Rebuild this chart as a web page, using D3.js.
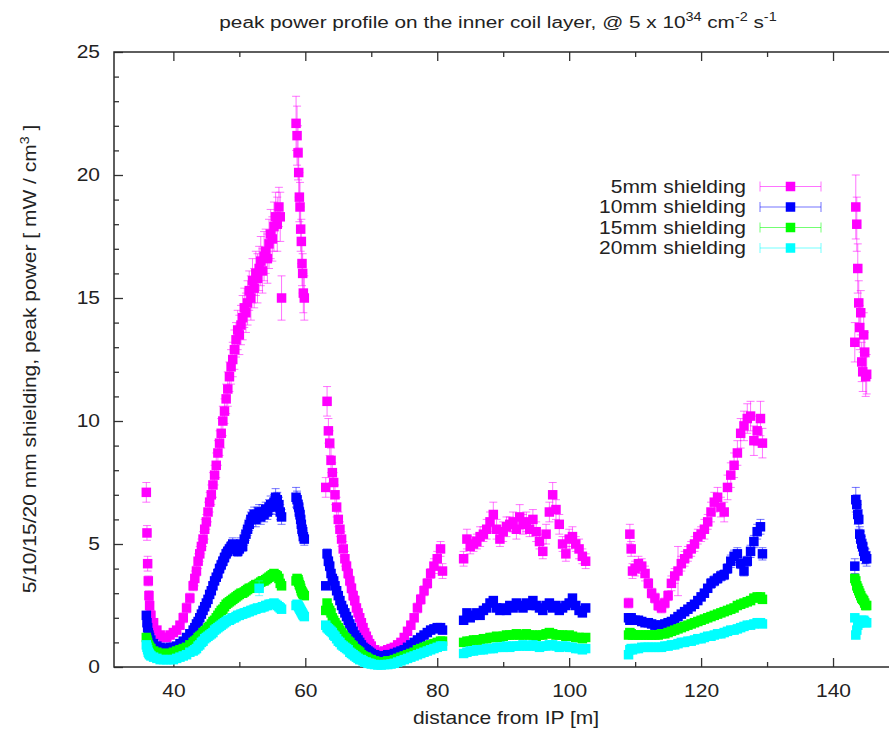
<!DOCTYPE html>
<html>
<head>
<meta charset="utf-8">
<title>peak power profile</title>
<style>
  body { margin: 0; background: #fff; }
  svg { display: block; }
  text { font-family: "Liberation Sans", Arial, sans-serif; fill: #222; }
</style>
</head>
<body>
<svg id="chart" width="889" height="732"></svg>

<script src="https://d3js.org/d3.v7.min.js"></script>
<script>

// distance from IP [m], shared by all four shielding runs
const distance = [
  // 36 - 56 m
  35.9, 36.0, 36.1, 36.2, 36.3, 36.4, 36.6, 37.0, 37.5, 38.0, 38.5, 39.0, 39.5, 40.0, 40.5, 41.0, 41.5, 42.0, 42.5, 43.0,
  43.25, 43.5, 43.75, 44.0, 44.25, 44.5, 44.75, 45.0, 45.25, 45.5, 45.75, 46.0, 46.25, 46.5, 46.75, 47.0, 47.25, 47.5, 47.75, 48.0,
  48.25, 48.5, 48.75, 49.0, 49.25, 49.5, 49.75, 50.0, 50.25, 50.5, 50.75, 51.0, 51.25, 51.5, 51.75, 52.0, 52.25, 52.5, 52.75, 53.0,
  53.25, 53.5, 53.75, 54.0, 54.25, 54.5, 54.75, 55.0, 55.25, 55.5, 55.75, 56.0, 56.2, 56.4,
  // 58.6 - 60 m
  58.6, 58.75, 58.9, 59.0, 59.1, 59.2, 59.3, 59.4, 59.5, 59.6, 59.7, 59.85,
  // 63 - 81 m
  63.1, 63.3, 63.5, 63.7, 63.9, 64.1, 64.3, 64.5, 64.75, 65.0, 65.25, 65.5, 65.75, 66.0, 66.25, 66.5, 66.75, 67.0, 67.25, 67.5,
  67.75, 68.0, 68.25, 68.5, 68.75, 69.0, 69.25, 69.5, 69.75, 70.0, 70.5, 71.0, 71.5, 72.0, 72.5, 73.0, 73.5, 74.0, 74.5, 75.0,
  75.5, 76.0, 76.5, 77.0, 77.5, 78.0, 78.5, 79.0, 79.5, 80.0, 80.5, 80.8,
  // 84 - 102.5 m
  84.0, 84.5, 85.0, 85.5, 86.0, 86.5, 87.0, 87.5, 88.0, 88.5, 89.0, 89.5, 90.0, 90.5, 91.0, 91.5, 92.0, 92.5, 93.0, 93.5,
  94.0, 94.5, 95.0, 95.5, 96.0, 96.5, 97.0, 97.5, 98.0, 98.5, 99.0, 99.5, 100.0, 100.5, 101.0, 101.5, 102.0, 102.5,
  // 109 - 129 m
  109.0, 109.2, 109.4, 109.6, 110.0, 110.5, 111.0, 111.5, 112.0, 112.5, 113.0, 113.5, 114.0, 114.5, 115.0, 115.5, 116.0, 116.5, 117.0, 117.5,
  118.0, 118.5, 119.0, 119.5, 120.0, 120.5, 121.0, 121.5, 122.0, 122.5, 123.0, 123.5, 124.0, 124.5, 125.0, 125.5, 126.0, 126.5, 127.0, 127.5,
  128.0, 128.5, 129.0, 129.3,
  // 143 - 145 m
  143.3, 143.45, 143.6, 143.75, 143.9, 144.05, 144.2, 144.35, 144.5, 144.65, 144.8, 144.95, 145.1
];

// peak power [mW/cm3], 5mm shielding
const shield5 = [
  7.1, 5.45, 4.2, 3.5, 2.9, 2.5, 2.1, 1.8, 1.5, 1.3, 1.2, 1.2, 1.3, 1.4, 1.5, 1.7, 2.0, 2.4, 2.8, 3.3,
  3.6, 3.9, 4.3, 4.6, 4.9, 5.2, 5.6, 5.9, 6.3, 6.7, 7.0, 7.4, 7.8, 8.2, 8.7, 9.1, 9.5, 10.0, 10.4, 10.9,
  11.3, 11.8, 12.2, 12.5, 12.9, 13.3, 13.7, 13.5, 13.9, 14.2, 14.6, 14.4, 14.8, 15.3, 15.0, 15.7, 15.4, 16.0, 15.8, 16.2,
  16.5, 16.1, 16.7, 16.9, 16.6, 17.2, 17.6, 17.4, 17.9, 18.3, 18.0, 18.7, 18.3, 15.0,
  22.1, 21.6, 20.9, 20.1, 19.1, 18.7, 17.8, 17.3, 16.4, 16.0, 15.2, 15.0,
  7.3, 10.8, 9.6, 9.1, 8.4, 7.9, 7.5, 7.0, 6.5, 6.0, 5.6, 5.2, 4.8, 4.4, 4.1, 3.8, 3.5, 3.2, 2.9, 2.7,
  2.4, 2.2, 2.0, 1.8, 1.6, 1.4, 1.25, 1.1, 0.95, 0.85, 0.7, 0.6, 0.6, 0.65, 0.7, 0.75, 0.8, 0.9, 1.0, 1.2,
  1.45, 1.7, 2.0, 2.4, 2.75, 3.1, 3.4, 3.8, 4.1, 4.4, 4.8, 3.9,
  4.4, 5.2, 4.9, 5.0, 5.1, 5.3, 5.4, 5.6, 5.9, 6.2, 5.6, 5.2, 5.5, 5.7, 5.8, 5.9, 5.6, 6.1, 5.8, 5.9,
  5.6, 6.0, 5.5, 5.1, 4.7, 5.4, 6.3, 7.0, 6.4, 5.8, 5.0, 4.6, 5.2, 5.3, 5.0, 4.8, 4.5, 4.3,
  2.6, 5.4, 4.8, 3.9, 4.0, 4.2, 4.1, 3.8, 3.4, 3.0, 2.8, 2.5, 2.4, 2.6, 2.9, 3.4, 3.7, 3.9, 4.2, 4.4,
  4.6, 4.8, 5.0, 5.3, 5.4, 5.6, 5.9, 6.3, 6.7, 6.9, 6.5, 6.3, 7.3, 7.8, 8.2, 8.7, 9.5, 9.8, 10.1, 10.2,
  9.2, 9.6, 10.1, 9.1,
  13.2, 18.7, 18.0, 16.2, 14.8, 13.8, 14.4, 12.4, 12.0, 13.5, 12.8, 11.8, 11.9
];
const err5 = [
  0.4, 0.3, 0.3, 0.2, 0.2, 0.2, 0.2, 0.1, 0.1, 0.1, 0.1, 0.1, 0.1, 0.1, 0.1, 0.1, 0.2, 0.2, 0.2, 0.2,
  0.3, 0.2, 0.3, 0.3, 0.3, 0.3, 0.4, 0.3, 0.4, 0.4, 0.4, 0.5, 0.4, 0.5, 0.5, 0.5, 0.6, 0.6, 0.5, 0.6,
  0.7, 0.6, 0.7, 0.7, 0.8, 0.7, 0.8, 0.8, 0.8, 0.9, 0.8, 0.8, 0.9, 0.8, 0.9, 0.9, 0.8, 0.9, 1.0, 0.9,
  1.0, 0.9, 1.0, 0.9, 1.0, 1.0, 1.0, 0.9, 1.0, 1.0, 1.1, 0.8, 1.0, 0.9,
  1.1, 1.2, 1.1, 1.0, 1.0, 1.0, 0.9, 0.9, 0.9, 0.8, 0.8, 0.9,
  0.4, 0.6, 0.5, 0.5, 0.5, 0.4, 0.4, 0.4, 0.4, 0.3, 0.3, 0.3, 0.3, 0.3, 0.2, 0.2, 0.2, 0.2, 0.2, 0.2,
  0.1, 0.1, 0.1, 0.1, 0.1, 0.1, 0.1, 0.1, 0.1, 0.05, 0.05, 0.05, 0.05, 0.05, 0.05, 0.05, 0.05, 0.05, 0.1, 0.1,
  0.1, 0.1, 0.1, 0.2, 0.2, 0.2, 0.2, 0.2, 0.3, 0.3, 0.3, 0.3,
  0.3, 0.4, 0.3, 0.3, 0.3, 0.4, 0.3, 0.4, 0.4, 0.5, 0.4, 0.3, 0.4, 0.4, 0.3, 0.4, 0.4, 0.5, 0.4, 0.4,
  0.3, 0.4, 0.4, 0.3, 0.3, 0.4, 0.4, 0.5, 0.4, 0.4, 0.3, 0.3, 0.4, 0.4, 0.3, 0.4, 0.3, 0.3,
  0.2, 0.4, 0.3, 0.3, 0.3, 0.3, 0.3, 0.3, 0.2, 0.2, 0.2, 0.2, 0.2, 0.2, 0.2, 0.3, 0.3, 1.0, 0.3, 0.3,
  0.3, 0.3, 0.3, 0.3, 0.3, 0.4, 0.3, 0.4, 0.4, 0.4, 0.4, 0.4, 0.5, 0.5, 0.5, 0.5, 0.6, 0.6, 0.6, 0.6,
  0.6, 0.6, 0.7, 0.6,
  0.8, 1.3, 1.1, 1.0, 0.9, 0.9, 0.9, 0.8, 0.8, 0.9, 0.8, 0.8, 0.8
];

// 10mm shielding
const shield10 = [
  2.1, 1.8, 1.6, 1.4, 1.3, 1.2, 1.1, 0.95, 0.85, 0.8, 0.75, 0.75, 0.8, 0.8, 0.85, 0.95, 1.05, 1.2, 1.35, 1.5,
  1.6, 1.75, 1.85, 2.0, 2.15, 2.3, 2.45, 2.6, 2.75, 2.95, 3.1, 3.3, 3.5, 3.65, 3.8, 4.0, 4.15, 4.3, 4.45, 4.6,
  4.7, 4.8, 4.9, 5.0, 4.8, 4.9, 4.7, 4.8, 5.0, 4.9, 5.2, 5.4, 5.6, 5.8, 6.0, 6.1, 6.2, 6.0, 6.2, 6.3,
  6.1, 6.3, 6.2, 6.4, 6.3, 6.5, 6.6, 6.5, 6.7, 6.9, 6.8, 6.6, 6.3, 6.1,
  6.9, 6.8, 6.6, 6.5, 6.3, 6.2, 6.0, 5.8, 5.6, 5.5, 5.3, 5.2,
  3.3, 4.6, 4.3, 4.1, 3.8, 3.6, 3.5, 3.3, 3.1, 2.9, 2.7, 2.5, 2.35, 2.2, 2.05, 1.9, 1.75, 1.6, 1.45, 1.3,
  1.2, 1.1, 1.0, 0.9, 0.8, 0.75, 0.7, 0.65, 0.6, 0.55, 0.5, 0.45, 0.45, 0.45, 0.5, 0.5, 0.55, 0.6, 0.65, 0.7,
  0.8, 0.9, 1.0, 1.1, 1.2, 1.3, 1.4, 1.5, 1.55, 1.6, 1.6, 1.5,
  1.9, 2.2, 2.0, 2.1, 2.2, 2.1, 2.3, 2.4, 2.6, 2.7, 2.4, 2.3, 2.4, 2.3, 2.5, 2.4, 2.6, 2.5, 2.4, 2.6,
  2.5, 2.7, 2.5, 2.4, 2.3, 2.5, 2.6, 2.4, 2.5, 2.3, 2.4, 2.5, 2.6, 2.8, 2.5, 2.3, 2.2, 2.4,
  2.0, 1.9, 2.0, 1.9, 1.9, 1.9, 1.85, 1.8, 1.8, 1.75, 1.7, 1.7, 1.7, 1.75, 1.8, 1.85, 1.95, 2.05, 2.15, 2.25,
  2.35, 2.45, 2.55, 2.7, 2.85, 3.0, 3.2, 3.4, 3.5, 3.6, 3.7, 3.75, 4.0, 4.3, 4.5, 4.6, 4.2, 3.9, 4.3, 4.7,
  5.1, 5.5, 5.7, 4.6,
  4.1, 6.8, 6.6, 6.2, 6.0, 5.4, 5.2, 5.0, 4.9, 4.7, 4.5, 4.5, 4.4
];
const err10 = [
  0.1, 0.1, 0.1, 0.1, 0.1, 0.05, 0.05, 0.05, 0.05, 0.05, 0.05, 0.05, 0.05, 0.05, 0.05, 0.05, 0.05, 0.05, 0.1, 0.1,
  0.1, 0.1, 0.1, 0.1, 0.1, 0.1, 0.1, 0.1, 0.15, 0.15, 0.15, 0.15, 0.15, 0.15, 0.2, 0.2, 0.2, 0.2, 0.2, 0.2,
  0.2, 0.2, 0.2, 0.25, 0.2, 0.2, 0.2, 0.2, 0.25, 0.2, 0.25, 0.25, 0.25, 0.25, 0.3, 0.3, 0.3, 0.3, 0.3, 0.3,
  0.3, 0.3, 0.3, 0.3, 0.3, 0.3, 0.35, 0.3, 0.3, 0.35, 0.3, 0.3, 0.3, 0.3,
  0.4, 0.35, 0.3, 0.3, 0.3, 0.3, 0.3, 0.3, 0.25, 0.25, 0.25, 0.25,
  0.15, 0.2, 0.2, 0.2, 0.15, 0.15, 0.15, 0.15, 0.15, 0.1, 0.1, 0.1, 0.1, 0.1, 0.1, 0.1, 0.1, 0.1, 0.1, 0.1,
  0.05, 0.05, 0.05, 0.05, 0.05, 0.05, 0.05, 0.05, 0.05, 0.05, 0.05, 0.05, 0.05, 0.05, 0.05, 0.05, 0.05, 0.05, 0.05, 0.05,
  0.05, 0.05, 0.05, 0.05, 0.05, 0.05, 0.1, 0.1, 0.1, 0.1, 0.1, 0.1,
  0.1, 0.1, 0.1, 0.1, 0.1, 0.1, 0.1, 0.15, 0.15, 0.15, 0.1, 0.1, 0.1, 0.1, 0.15, 0.1, 0.15, 0.1, 0.1, 0.15,
  0.1, 0.15, 0.1, 0.1, 0.1, 0.1, 0.15, 0.1, 0.1, 0.1, 0.1, 0.15, 0.15, 0.15, 0.1, 0.1, 0.1, 0.1,
  0.1, 0.1, 0.1, 0.1, 0.1, 0.1, 0.1, 0.1, 0.1, 0.1, 0.1, 0.1, 0.1, 0.1, 0.1, 0.1, 0.1, 0.1, 0.1, 0.1,
  0.1, 0.1, 0.1, 0.15, 0.15, 0.15, 0.15, 0.2, 0.2, 0.2, 0.2, 0.2, 0.2, 0.25, 0.25, 0.25, 0.2, 0.2, 0.2, 0.25,
  0.25, 0.3, 0.3, 0.25,
  0.3, 0.5, 0.4, 0.4, 0.4, 0.3, 0.3, 0.3, 0.3, 0.3, 0.3, 0.3, 0.3
];

// 15mm shielding
const shield15 = [
  1.2, 1.1, 1.0, 0.9, 0.85, 0.8, 0.75, 0.65, 0.6, 0.55, 0.55, 0.55, 0.55, 0.6, 0.65, 0.7, 0.75, 0.8, 0.9, 1.0,
  1.05, 1.1, 1.2, 1.25, 1.3, 1.4, 1.45, 1.5, 1.6, 1.65, 1.75, 1.85, 1.9, 2.0, 2.1, 2.2, 2.3, 2.35, 2.45, 2.55,
  2.6, 2.65, 2.7, 2.75, 2.8, 2.85, 2.9, 2.95, 3.0, 3.0, 3.05, 3.1, 3.15, 3.2, 3.2, 3.25, 3.3, 3.35, 3.35, 3.4,
  3.45, 3.5, 3.5, 3.55, 3.6, 3.65, 3.7, 3.75, 3.8, 3.75, 3.7, 3.6, 3.4, 3.3,
  3.5, 3.6, 3.55, 3.45, 3.35, 3.3, 3.2, 3.1, 3.05, 3.0, 2.95, 2.9,
  2.3, 2.6, 2.4, 2.3, 2.2, 2.0, 1.9, 1.8, 1.7, 1.6, 1.5, 1.4, 1.3, 1.2, 1.15, 1.05, 1.0, 0.9, 0.85, 0.75,
  0.7, 0.65, 0.6, 0.5, 0.45, 0.4, 0.4, 0.35, 0.3, 0.3, 0.25, 0.2, 0.2, 0.2, 0.25, 0.25, 0.3, 0.35, 0.4, 0.45,
  0.5, 0.55, 0.6, 0.7, 0.75, 0.8, 0.85, 0.9, 0.95, 1.0, 1.05, 1.05,
  1.0, 1.05, 1.05, 1.1, 1.1, 1.1, 1.15, 1.15, 1.2, 1.2, 1.25, 1.2, 1.25, 1.3, 1.3, 1.3, 1.35, 1.3, 1.3, 1.35,
  1.3, 1.3, 1.25, 1.3, 1.3, 1.35, 1.4, 1.35, 1.3, 1.3, 1.3, 1.25, 1.3, 1.25, 1.2, 1.2, 1.15, 1.2,
  1.3, 1.4, 1.35, 1.3, 1.3, 1.3, 1.3, 1.3, 1.3, 1.3, 1.3, 1.3, 1.35, 1.35, 1.4, 1.45, 1.5, 1.55, 1.6, 1.65,
  1.7, 1.75, 1.8, 1.85, 1.9, 1.95, 2.0, 2.05, 2.1, 2.15, 2.2, 2.25, 2.3, 2.35, 2.4, 2.5, 2.55, 2.6, 2.65, 2.7,
  2.8, 2.85, 2.85, 2.75,
  3.6, 3.5, 3.3, 3.2, 3.1, 3.0, 2.9, 2.8, 2.75, 2.7, 2.6, 2.5, 2.5
];
const err15 = [
  0.05, 0.05, 0.05, 0.05, 0.05, 0.05, 0.05, 0.05, 0.05, 0.05, 0.05, 0.05, 0.05, 0.05, 0.05, 0.05, 0.05, 0.05, 0.05, 0.05,
  0.05, 0.05, 0.05, 0.05, 0.05, 0.05, 0.05, 0.1, 0.1, 0.1, 0.1, 0.1, 0.1, 0.1, 0.1, 0.1, 0.1, 0.1, 0.1, 0.1,
  0.1, 0.1, 0.1, 0.1, 0.1, 0.1, 0.1, 0.1, 0.1, 0.1, 0.1, 0.1, 0.1, 0.1, 0.1, 0.1, 0.1, 0.1, 0.1, 0.1,
  0.1, 0.1, 0.15, 0.15, 0.15, 0.15, 0.15, 0.15, 0.15, 0.15, 0.15, 0.15, 0.15, 0.15,
  0.15, 0.15, 0.15, 0.15, 0.15, 0.15, 0.15, 0.15, 0.15, 0.15, 0.15, 0.15,
  0.1, 0.1, 0.1, 0.1, 0.1, 0.1, 0.1, 0.1, 0.1, 0.1, 0.05, 0.05, 0.05, 0.05, 0.05, 0.05, 0.05, 0.05, 0.05, 0.05,
  0.05, 0.05, 0.05, 0.05, 0.05, 0.05, 0.05, 0.05, 0.05, 0.05, 0.05, 0.05, 0.05, 0.05, 0.05, 0.05, 0.05, 0.05, 0.05, 0.05,
  0.05, 0.05, 0.05, 0.05, 0.05, 0.05, 0.05, 0.05, 0.05, 0.05, 0.05, 0.05,
  0.05, 0.05, 0.05, 0.05, 0.05, 0.05, 0.05, 0.05, 0.05, 0.05, 0.05, 0.05, 0.05, 0.05, 0.05, 0.05, 0.05, 0.05, 0.05, 0.05,
  0.05, 0.05, 0.05, 0.05, 0.05, 0.05, 0.05, 0.05, 0.05, 0.05, 0.05, 0.05, 0.05, 0.05, 0.05, 0.05, 0.05, 0.05,
  0.05, 0.05, 0.05, 0.05, 0.05, 0.05, 0.05, 0.05, 0.05, 0.05, 0.05, 0.05, 0.05, 0.05, 0.05, 0.05, 0.05, 0.05, 0.05, 0.05,
  0.1, 0.1, 0.1, 0.1, 0.1, 0.1, 0.1, 0.1, 0.1, 0.1, 0.1, 0.1, 0.1, 0.1, 0.1, 0.1, 0.1, 0.1, 0.1, 0.1,
  0.1, 0.1, 0.1, 0.1,
  0.15, 0.15, 0.15, 0.15, 0.1, 0.1, 0.1, 0.1, 0.1, 0.1, 0.1, 0.1, 0.1
];

// 20mm shielding
const shield20 = [
  0.9, 0.8, 0.7, 0.6, 0.55, 0.5, 0.45, 0.4, 0.35, 0.3, 0.3, 0.3, 0.3, 0.3, 0.35, 0.4, 0.45, 0.5, 0.6, 0.65,
  0.7, 0.75, 0.85, 0.9, 1.0, 1.05, 1.15, 1.2, 1.25, 1.3, 1.35, 1.4, 1.5, 1.55, 1.6, 1.65, 1.7, 1.75, 1.8, 1.85,
  1.9, 1.9, 1.95, 2.0, 2.0, 2.05, 2.1, 2.1, 2.15, 2.15, 2.2, 2.2, 2.25, 2.25, 2.3, 2.3, 2.35, 2.35, 2.4, 3.2,
  2.4, 2.45, 2.45, 2.5, 2.5, 2.55, 2.55, 2.55, 2.6, 2.55, 2.5, 2.45, 2.4, 2.35,
  2.5, 2.55, 2.5, 2.45, 2.4, 2.35, 2.3, 2.25, 2.2, 2.15, 2.1, 2.05,
  1.7, 1.6, 1.55, 1.5, 1.45, 1.4, 1.3, 1.25, 1.15, 1.05, 1.0, 0.9, 0.85, 0.8, 0.75, 0.7, 0.6, 0.55, 0.5, 0.45,
  0.4, 0.35, 0.3, 0.3, 0.25, 0.2, 0.2, 0.15, 0.15, 0.12, 0.1, 0.08, 0.08, 0.1, 0.1, 0.12, 0.15, 0.2, 0.25, 0.3,
  0.35, 0.4, 0.45, 0.5, 0.55, 0.6, 0.65, 0.7, 0.75, 0.8, 0.85, 0.85,
  0.55, 0.6, 0.65, 0.65, 0.7, 0.7, 0.7, 0.75, 0.75, 0.75, 0.8, 0.8, 0.8, 0.85, 0.8, 0.85, 0.85, 0.85, 0.9, 0.85,
  0.85, 0.9, 0.85, 0.8, 0.85, 0.85, 0.9, 0.9, 0.85, 0.8, 0.85, 0.85, 0.8, 0.8, 0.75, 0.75, 0.7, 0.75,
  0.5, 0.7, 0.75, 0.7, 0.75, 0.75, 0.8, 0.8, 0.8, 0.8, 0.8, 0.8, 0.8, 0.85, 0.85, 0.9, 0.9, 0.95, 1.0, 1.0,
  1.05, 1.05, 1.1, 1.15, 1.15, 1.2, 1.25, 1.25, 1.3, 1.35, 1.35, 1.4, 1.45, 1.5, 1.5, 1.55, 1.6, 1.65, 1.7, 1.7,
  1.75, 1.8, 1.8, 1.75,
  2.0, 1.3, 1.5, 1.7, 1.8, 1.8, 1.85, 1.9, 1.85, 1.9, 1.85, 1.8, 1.8
];
const err20 = [
  0.05, 0.05, 0.05, 0.05, 0.05, 0.05, 0.05, 0.05, 0.05, 0.05, 0.05, 0.05, 0.05, 0.05, 0.05, 0.05, 0.05, 0.05, 0.05, 0.05,
  0.05, 0.05, 0.05, 0.05, 0.05, 0.05, 0.05, 0.05, 0.05, 0.05, 0.05, 0.05, 0.05, 0.05, 0.05, 0.05, 0.05, 0.05, 0.05, 0.05,
  0.1, 0.1, 0.1, 0.1, 0.1, 0.1, 0.1, 0.1, 0.1, 0.1, 0.1, 0.1, 0.1, 0.1, 0.1, 0.1, 0.1, 0.1, 0.1, 0.3,
  0.1, 0.1, 0.1, 0.1, 0.1, 0.1, 0.1, 0.1, 0.1, 0.1, 0.1, 0.1, 0.1, 0.1,
  0.1, 0.1, 0.1, 0.1, 0.1, 0.1, 0.1, 0.1, 0.1, 0.1, 0.1, 0.1,
  0.05, 0.05, 0.05, 0.05, 0.05, 0.05, 0.05, 0.05, 0.05, 0.05, 0.05, 0.05, 0.05, 0.05, 0.05, 0.05, 0.05, 0.05, 0.05, 0.05,
  0.05, 0.05, 0.05, 0.05, 0.05, 0.05, 0.05, 0.05, 0.05, 0.05, 0.05, 0.05, 0.05, 0.05, 0.05, 0.05, 0.05, 0.05, 0.05, 0.05,
  0.05, 0.05, 0.05, 0.05, 0.05, 0.05, 0.05, 0.05, 0.05, 0.05, 0.05, 0.05,
  0.05, 0.05, 0.05, 0.05, 0.05, 0.05, 0.05, 0.05, 0.05, 0.05, 0.05, 0.05, 0.05, 0.05, 0.05, 0.05, 0.05, 0.05, 0.05, 0.05,
  0.05, 0.05, 0.05, 0.05, 0.05, 0.05, 0.05, 0.05, 0.05, 0.05, 0.05, 0.05, 0.05, 0.05, 0.05, 0.05, 0.05, 0.05,
  0.05, 0.05, 0.05, 0.05, 0.05, 0.05, 0.05, 0.05, 0.05, 0.05, 0.05, 0.05, 0.05, 0.05, 0.05, 0.05, 0.05, 0.05, 0.05, 0.05,
  0.05, 0.05, 0.05, 0.05, 0.05, 0.05, 0.05, 0.05, 0.05, 0.05, 0.05, 0.05, 0.05, 0.05, 0.05, 0.05, 0.05, 0.05, 0.05, 0.05,
  0.05, 0.05, 0.05, 0.05,
  0.1, 0.1, 0.1, 0.1, 0.1, 0.1, 0.1, 0.1, 0.1, 0.1, 0.1, 0.1, 0.1
];

const seriesNames = ['5mm shielding', '10mm shielding', '15mm shielding', '20mm shielding'];
const seriesColors = ['#ff00ff', '#0000ff', '#00ff00', '#00ffff'];
const seriesValues = [shield5, shield10, shield15, shield20];
const seriesErrors = [err5, err10, err15, err20];

const xMajorTicks = [40, 60, 80, 100, 120, 140];
const xMinorTicks = [50, 70, 90, 110, 130, 150];
const yMajorTicks = [0, 5, 10, 15, 20, 25];
const yMinorTicks = d3.range(0, 26).filter(v => v % 5 !== 0);

const SX = 1.2;        // the original font is wider than Helvetica
const FONT = 17.5;

const svg = d3.select('#chart');

const x = d3.scaleLinear().domain([31, 150]).range([114, 899]);
const y = d3.scaleLinear().domain([0, 25]).range([667, 52]);

// ---- axes -------------------------------------------------------------
const axes = svg.append('g').attr('class', 'axes');

function styleTicks(g) {
    g.select('.domain').remove();
    g.selectAll('.tick line').attr('stroke', '#333').attr('stroke-width', 1.3);
}

axes.append('g')
    .attr('transform', `translate(0, ${y(0)})`)
    .call(d3.axisBottom(x).tickValues(xMajorTicks).tickSize(-9).tickPadding(0))
    .call(styleTicks)
    .call(g => g.selectAll('text')
        .attr('y', 30).attr('dy', 0)
        .attr('transform', `scale(${SX},1)`)
        .style('font-size', FONT + 'px'));

axes.append('g')
    .attr('transform', `translate(0, ${y(0)})`)
    .call(d3.axisBottom(x).tickValues(xMinorTicks).tickSize(-5).tickFormat(''))
    .call(styleTicks);

axes.append('g')
    .attr('transform', `translate(0, ${y(25)})`)
    .call(d3.axisTop(x).tickValues(xMajorTicks).tickSize(-9).tickFormat(''))
    .call(styleTicks);

axes.append('g')
    .attr('transform', `translate(0, ${y(25)})`)
    .call(d3.axisTop(x).tickValues(xMinorTicks).tickSize(-5).tickFormat(''))
    .call(styleTicks);

axes.append('g')
    .attr('transform', `translate(${x(31)}, 0)`)
    .call(d3.axisLeft(y).tickValues(yMajorTicks).tickSize(-9))
    .call(styleTicks)
    .call(g => g.selectAll('text')
        .attr('x', -14 / SX)
        .attr('transform', `scale(${SX},1)`)
        .style('font-size', FONT + 'px'));

axes.append('g')
    .attr('transform', `translate(${x(31)}, 0)`)
    .call(d3.axisLeft(y).tickValues(yMinorTicks).tickSize(-5).tickFormat(''))
    .call(styleTicks);

axes.selectAll('text').attr('fill', '#222').attr('font-family', '"Liberation Sans", Arial, sans-serif');

// frame
svg.append('rect')
    .attr('x', x(31)).attr('y', y(25))
    .attr('width', x(150) - x(31)).attr('height', y(0) - y(25))
    .attr('fill', 'none').attr('stroke', '#2a2a2a').attr('stroke-width', 1.5);

// ---- data -------------------------------------------------------------
const HALF = 4.75;  // half size of the square markers
const CAP = 4;      // half width of error bar caps

const plot = svg.append('g').attr('class', 'series');

seriesValues.forEach((values, s) => {
    const errs = seriesErrors[s];
    const pts = distance.map((d, i) => ({ d: d, v: values[i], e: errs[i] }))
        .filter(p => p.v != null);

    const g = plot.append('g').attr('class', 'shield-' + s);

    const bars = pts.map(p => {
        const px = x(p.d), lo = y(p.v - p.e), hi = y(p.v + p.e);
        return `M${px},${lo}V${hi}M${px - CAP},${hi}h${2 * CAP}M${px - CAP},${lo}h${2 * CAP}`;
    }).join('');

    g.append('path')
        .attr('d', bars)
        .attr('fill', 'none')
        .attr('stroke', seriesColors[s])
        .attr('stroke-opacity', 0.55)
        .attr('stroke-width', 1);

    g.selectAll('rect')
        .data(pts)
        .join('rect')
            .attr('x', p => x(p.d) - HALF)
            .attr('y', p => y(p.v) - HALF)
            .attr('width', 2 * HALF)
            .attr('height', 2 * HALF)
            .attr('fill', seriesColors[s]);
});

// ---- legend -----------------------------------------------------------
const legend = svg.append('g').attr('class', 'legend');
const legendY = d3.scaleLinear().domain([0, 1]).range([186.5, 207]);

seriesNames.forEach((name, s) => {
    const ly = legendY(s);
    legend.append('text')
        .attr('transform', `translate(746, ${ly + 6}) scale(${SX},1)`)
        .attr('text-anchor', 'end')
        .style('font-size', FONT + 'px')
        .text(name);
    legend.append('path')
        .attr('d', `M760,${ly}H821M760,${ly - 5}V${ly + 5}M821,${ly - 5}V${ly + 5}`)
        .attr('fill', 'none')
        .attr('stroke', seriesColors[s])
        .attr('stroke-opacity', 0.55);
    legend.append('rect')
        .attr('x', 790.5 - HALF).attr('y', ly - HALF)
        .attr('width', 2 * HALF).attr('height', 2 * HALF)
        .attr('fill', seriesColors[s]);
});

// ---- titles -----------------------------------------------------------
const title = svg.append('text')
    .attr('transform', `translate(498, 28) scale(${SX},1)`)
    .attr('text-anchor', 'middle')
    .style('font-size', '17.3px');
title.append('tspan').text('peak power profile on the inner coil layer, @ 5 x 10');
title.append('tspan').attr('dy', -7).style('font-size', '12px').text('34');
title.append('tspan').attr('dy', 7).text(' cm');
title.append('tspan').attr('dy', -7).style('font-size', '12px').text('-2');
title.append('tspan').attr('dy', 7).text(' s');
title.append('tspan').attr('dy', -7).style('font-size', '12px').text('-1');

svg.append('text')
    .attr('transform', `translate(506, 724) scale(${SX},1)`)
    .attr('text-anchor', 'middle')
    .style('font-size', FONT + 'px')
    .text('distance from IP [m]');

const ylab = svg.append('text')
    .attr('transform', `translate(36, 359) rotate(-90) scale(${SX},1)`)
    .attr('text-anchor', 'middle')
    .style('font-size', FONT + 'px');
ylab.append('tspan').text('5/10/15/20 mm shielding, peak power [ mW / cm');
ylab.append('tspan').attr('dy', -7).style('font-size', '12px').text('3');
ylab.append('tspan').attr('dy', 7).text(' ]');

</script>
</body>
</html>
